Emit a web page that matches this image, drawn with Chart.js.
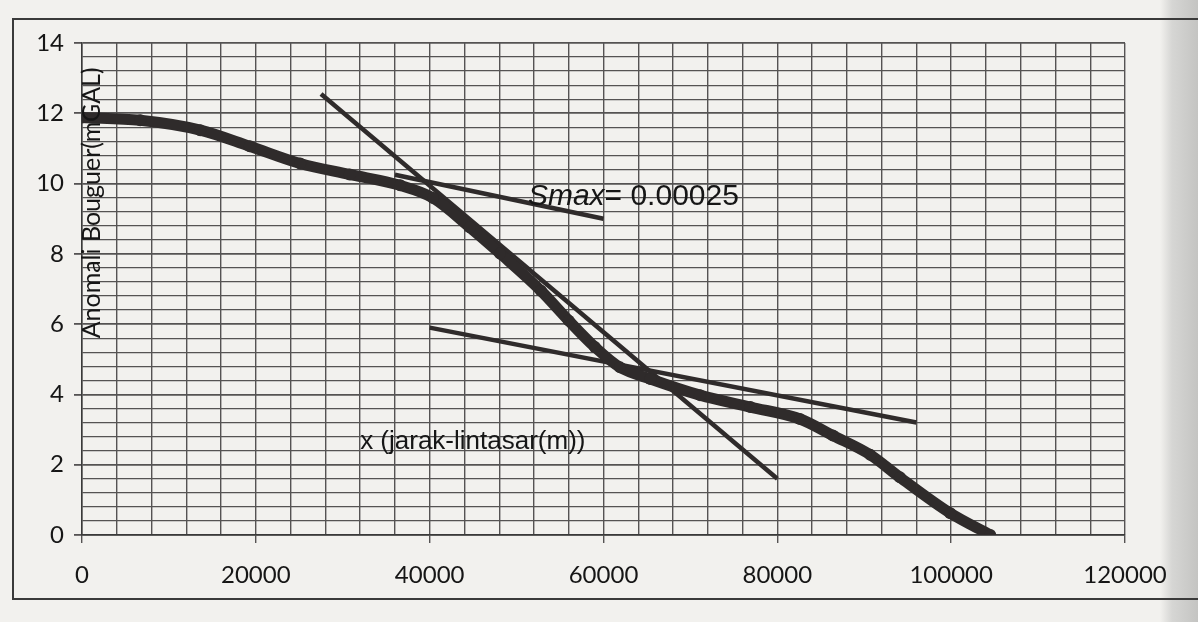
<!DOCTYPE html>
<html>
<head>
<meta charset="utf-8">
<script src="https://cdn.jsdelivr.net/npm/chart.js@4.4.1/dist/chart.umd.min.js"></script>
<style>
  html, body { margin: 0; padding: 0; }
  body {
    width: 1198px; height: 622px; overflow: hidden; position: relative;
    background: linear-gradient(to right, #f2f1ee 0px, #f2f1ee 1160px, #d6d6d4 1172px, #c4c4c2 1198px);
  }
  #wrap { position: absolute; left: 0; top: 0; width: 1198px; height: 622px; }
  #frame {
    position: absolute; left: 12px; top: 18px; width: 1200px; height: 578px;
    border: 2px solid #3a3a3a; pointer-events: none;
  }
</style>
</head>
<body>
<div id="frame"></div>
<div id="wrap"><canvas id="myChart"></canvas></div>
<script>
// main Bouguer anomaly profile (distance in m, anomaly in mGal)
const distance = [0, 6700, 13600, 19300, 25100, 30800, 36600, 40400, 44600, 48100, 52800, 56000, 59000, 61900, 65400, 71100, 76900, 82600, 86400, 90700, 94100, 99900, 104500];
const bouguer = [11.88, 11.8, 11.52, 11.06, 10.57, 10.26, 9.95, 9.59, 8.76, 8.01, 6.95, 6.1, 5.35, 4.77, 4.44, 3.98, 3.64, 3.3, 2.83, 2.28, 1.64, 0.62, 0.0];

// straight tangent lines
const upperLineX = [36000, 60000];
const upperLineY = [10.25, 9.0];
const steepLineX = [27500, 80000];
const steepLineY = [12.55, 1.6];
const lowerLineX = [40000, 96000];
const lowerLineY = [5.9, 3.2];

const xTicks = [0, 20000, 40000, 60000, 80000, 100000, 120000];
const yTicks = [0, 2, 4, 6, 8, 10, 12, 14];

const toPoints = (xs, ys) => xs.map((x, i) => ({ x: x, y: ys[i] }));

const ink = "#2f2b2b";
const gridColor = "#555353";
const textColor = "#161616";

const isMajor = (v, list) => list.some((t) => Math.abs(t - v) < 1e-6);

// texts drawn inside the plot
const textPlugin = {
  id: "texts",
  afterDraw(chart) {
    const { ctx, scales } = chart;
    const xs = scales.x, ys = scales.y;
    ctx.save();
    ctx.fillStyle = textColor;

    // y axis title, rotated
    ctx.save();
    ctx.translate(xs.getPixelForValue(1100), ys.getPixelForValue(9.45));
    ctx.rotate(-Math.PI / 2);
    ctx.font = "25px Lato";
    ctx.textAlign = "center";
    ctx.textBaseline = "middle";
    ctx.fillText("Anomali Bouguer(mGAL)", 0, 0);
    ctx.restore();

    // x axis title
    ctx.font = "26px 'Liberation Sans'";
    ctx.textAlign = "left";
    ctx.textBaseline = "middle";
    ctx.fillText("x (jarak-lintasar(m))", xs.getPixelForValue(32000), ys.getPixelForValue(2.65));

    // Smax label
    const sx = xs.getPixelForValue(51300);
    const sy = ys.getPixelForValue(9.62);
    ctx.font = "italic 30px 'Liberation Sans'";
    ctx.fillText("Smax", sx, sy);
    const w = ctx.measureText("Smax").width;
    ctx.font = "30px 'Liberation Sans'";
    ctx.fillText("= 0.00025", sx + w, sy);
    ctx.restore();
  },
};

const data = {
  datasets: [
    {
      data: toPoints(distance, bouguer),
      borderColor: ink,
      backgroundColor: ink,
      borderWidth: 11,
      pointRadius: 6,
      pointBorderWidth: 0,
      tension: 0.4,
      cubicInterpolationMode: "monotone",
      showLine: true,
    },
    {
      data: toPoints(upperLineX, upperLineY),
      borderColor: ink,
      borderWidth: 4.5,
      pointRadius: 0,
      showLine: true,
    },
    {
      data: toPoints(steepLineX, steepLineY),
      borderColor: ink,
      borderWidth: 4.5,
      pointRadius: 0,
      showLine: true,
    },
    {
      data: toPoints(lowerLineX, lowerLineY),
      borderColor: ink,
      borderWidth: 4.5,
      pointRadius: 0,
      showLine: true,
    },
  ],
};

const config = {
  type: "scatter",
  data: data,
  plugins: [textPlugin],
  options: {
    responsive: true,
    maintainAspectRatio: false,
    animation: false,
    layout: {
      padding: { left: 0, top: 43, right: 73, bottom: 0 },
    },
    plugins: {
      legend: { display: false },
      tooltip: { enabled: false },
    },
    scales: {
      x: {
        type: "linear",
        min: 0,
        max: 120000,
        afterFit: (scale) => { scale.height = 87; },
        ticks: {
          stepSize: 4000,
          maxTicksLimit: 1000,
          autoSkip: false,
          maxRotation: 0,
          padding: 18,
          color: textColor,
          font: { family: "Lato", size: 24 },
          callback: (v) => (isMajor(v, xTicks) ? String(v) : ""),
        },
        grid: {
          color: gridColor,
          lineWidth: 1.4,
          tickLength: 8,
          tickColor: (c) => (c.tick && isMajor(c.tick.value, xTicks) ? gridColor : "transparent"),
        },
        border: { color: "#3a3a3a", width: 1.5 },
      },
      y: {
        min: 0,
        max: 14,
        afterFit: (scale) => { scale.width = 82; },
        ticks: {
          stepSize: 0.4,
          maxTicksLimit: 1000,
          autoSkip: false,
          padding: 10,
          color: textColor,
          font: { family: "Lato", size: 24 },
          callback: (v) => (isMajor(v, yTicks) ? String(Math.round(v)) : ""),
        },
        grid: {
          color: gridColor,
          lineWidth: (c) => (c.tick && isMajor(c.tick.value, yTicks) ? 1.8 : 1.3),
          tickLength: 8,
          tickColor: (c) => (c.tick && isMajor(c.tick.value, yTicks) ? gridColor : "transparent"),
        },
        border: { color: "#3a3a3a", width: 1.5 },
      },
    },
  },
};

document.addEventListener("DOMContentLoaded", () => {
  const ctx = document.getElementById("myChart").getContext("2d");
  new Chart(ctx, config);
});
</script>
</body>
</html>
